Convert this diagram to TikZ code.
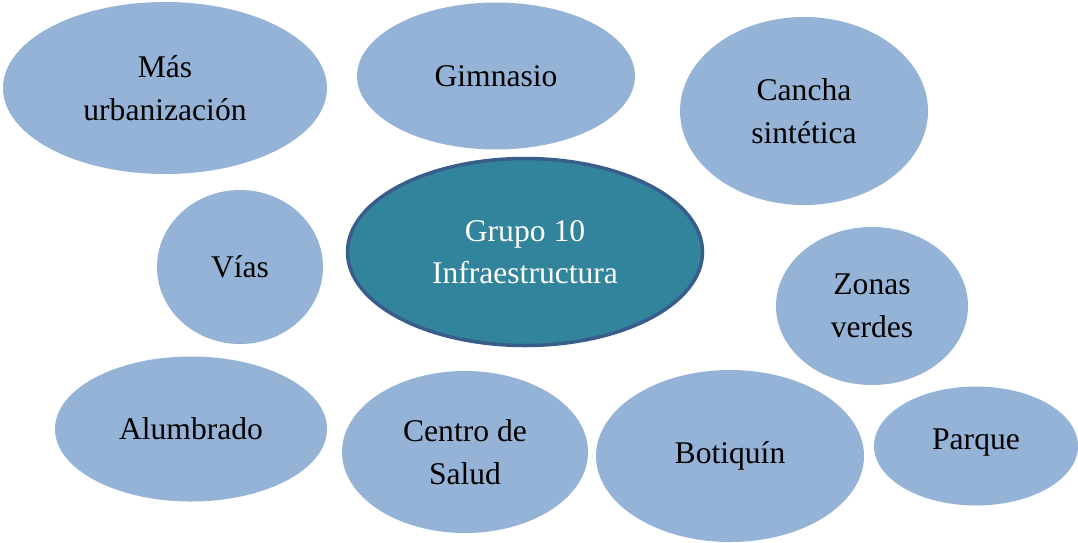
\documentclass[tikz,border=0pt]{standalone}
\usepackage{fontspec}
\setmainfont{Liberation Serif}
\usetikzlibrary{shapes.geometric}
\definecolor{bubble}{HTML}{95B3D7}
\definecolor{core}{HTML}{31849B}
\definecolor{coreline}{HTML}{385D8A}
\begin{document}
\begin{tikzpicture}[x=1pt,y=-1pt,
  bub/.style={ellipse, fill=bubble, draw=none, inner sep=0pt, align=center,
    text=black, font=\fontsize{31.6}{43}\selectfont},
  hub/.style={ellipse, fill=core, draw=coreline, line width=3.5pt, inner sep=0pt,
    align=center, text=white, font=\fontsize{31.6}{42}\selectfont}]
\useasboundingbox (0,0) rectangle (1078,542);
\node[bub, minimum width=324pt, minimum height=172pt] (mas) at (165,88) {Más\\urbanización};
\node[bub, minimum width=278pt, minimum height=147pt] (gim) at (496,76) {Gimnasio};
\node[bub, minimum width=248pt, minimum height=188pt] (can) at (804,111) {Cancha\\sintética};
\node[bub, minimum width=166pt, minimum height=154pt] (via) at (240,267) {Vías};
\node[hub, minimum width=355pt, minimum height=187pt] (grp) at (525,252) {Grupo 10\\Infraestructura};
\node[bub, minimum width=192pt, minimum height=158pt] (zon) at (872,306) {Zonas\\verdes};
\node[bub, minimum width=272pt, minimum height=145pt] (alu) at (191,429) {Alumbrado};
\node[bub, minimum width=246pt, minimum height=162pt] (cen) at (465,452) {Centro de\\Salud};
\node[bub, minimum width=268pt, minimum height=172pt] (bot) at (730,456) {Botiquín};
\node[bub, minimum width=204pt, minimum height=119pt] (par) at (976,446) {\raisebox{13pt}{Parque}};
\end{tikzpicture}
\end{document}
